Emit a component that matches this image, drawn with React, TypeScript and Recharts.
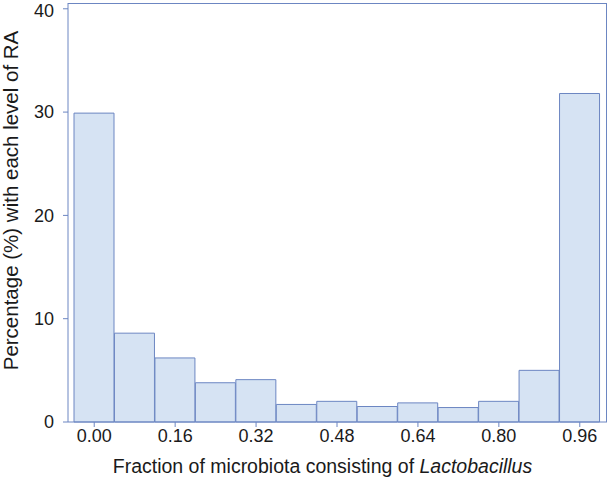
import React from 'react';
import { BarChart, Bar, XAxis, YAxis, Label, CartesianGrid } from 'recharts';

// bin centres of the histogram (fraction of Lactobacillus)
const bins = ['0.00', '0.08', '0.16', '0.24', '0.32', '0.40', '0.48', '0.56', '0.64', '0.72', '0.80', '0.88', '0.96'];
// percentage with each level of RA
const percents = [29.9, 8.6, 6.2, 3.8, 4.1, 1.7, 2.0, 1.5, 1.85, 1.4, 2.0, 5.0, 31.8];
const yTicks = [0, 10, 20, 30, 40];

const data = bins.map((bin, i) => ({ bin, pct: percents[i] }));

const FONT = '"Liberation Sans", Arial, Helvetica, sans-serif';
const EDGE = '#6c86c2';
const FILL = '#d6e3f3';
const TEXT = '#1a1a1a';

const XTitle = (props: any) => {
  const vb = props.viewBox;
  return (
    <text x={vb.x + vb.width / 2 - 15} y={vb.y + 51} textAnchor="middle" fontFamily={FONT} fontSize={19.5} fill={TEXT}>
      Fraction of microbiota consisting of <tspan fontStyle="italic">Lactobacillus</tspan>
    </text>
  );
};

const YTitle = (props: any) => {
  const vb = props.viewBox;
  const cx = 10;
  const cy = vb.y + vb.height / 2 - 12;
  return (
    <text
      x={cx}
      y={cy}
      transform={`rotate(-90 ${cx} ${cy})`}
      textAnchor="middle"
      dominantBaseline="central"
      fontFamily={FONT}
      fontSize={20.5}
      fill={TEXT}
    >
      Percentage (%) with each level of RA
    </text>
  );
};

const App: React.FC = () => {
  return (
    <div style={{ position: 'absolute', left: 0, top: 0, width: 609, height: 480, background: '#fff' }}>
      <BarChart
        width={609}
        height={480}
        data={data}
        margin={{ top: 3, right: 2, bottom: 0, left: 0 }}
        barCategoryGap={0}
      >
        {/* top and right frame lines */}
        <CartesianGrid
          stroke={EDGE}
          strokeWidth={1}
          horizontalCoordinatesGenerator={({ offset }: any) => [offset.top + 0.5]}
          verticalCoordinatesGenerator={({ offset }: any) => [offset.left + offset.width - 0.5]}
        />
        <XAxis
          dataKey="bin"
          interval={1}
          height={58}
          padding={{ left: 6, right: 7 }}
          stroke={EDGE}
          tickSize={5}
          tickMargin={2}
          tick={{ fill: TEXT, fontSize: 18, fontFamily: FONT }}
        >
          <Label content={<XTitle />} />
        </XAxis>
        <YAxis
          domain={[0, 40.56]}
          ticks={yTicks}
          width={68}
          stroke={EDGE}
          tickSize={5}
          tickMargin={9}
          tick={{ fill: TEXT, fontSize: 18, fontFamily: FONT }}
        >
          <Label content={<YTitle />} />
        </YAxis>
        <Bar dataKey="pct" fill={FILL} stroke={EDGE} strokeWidth={1} isAnimationActive={false} />
      </BarChart>
    </div>
  );
};

export default App;
